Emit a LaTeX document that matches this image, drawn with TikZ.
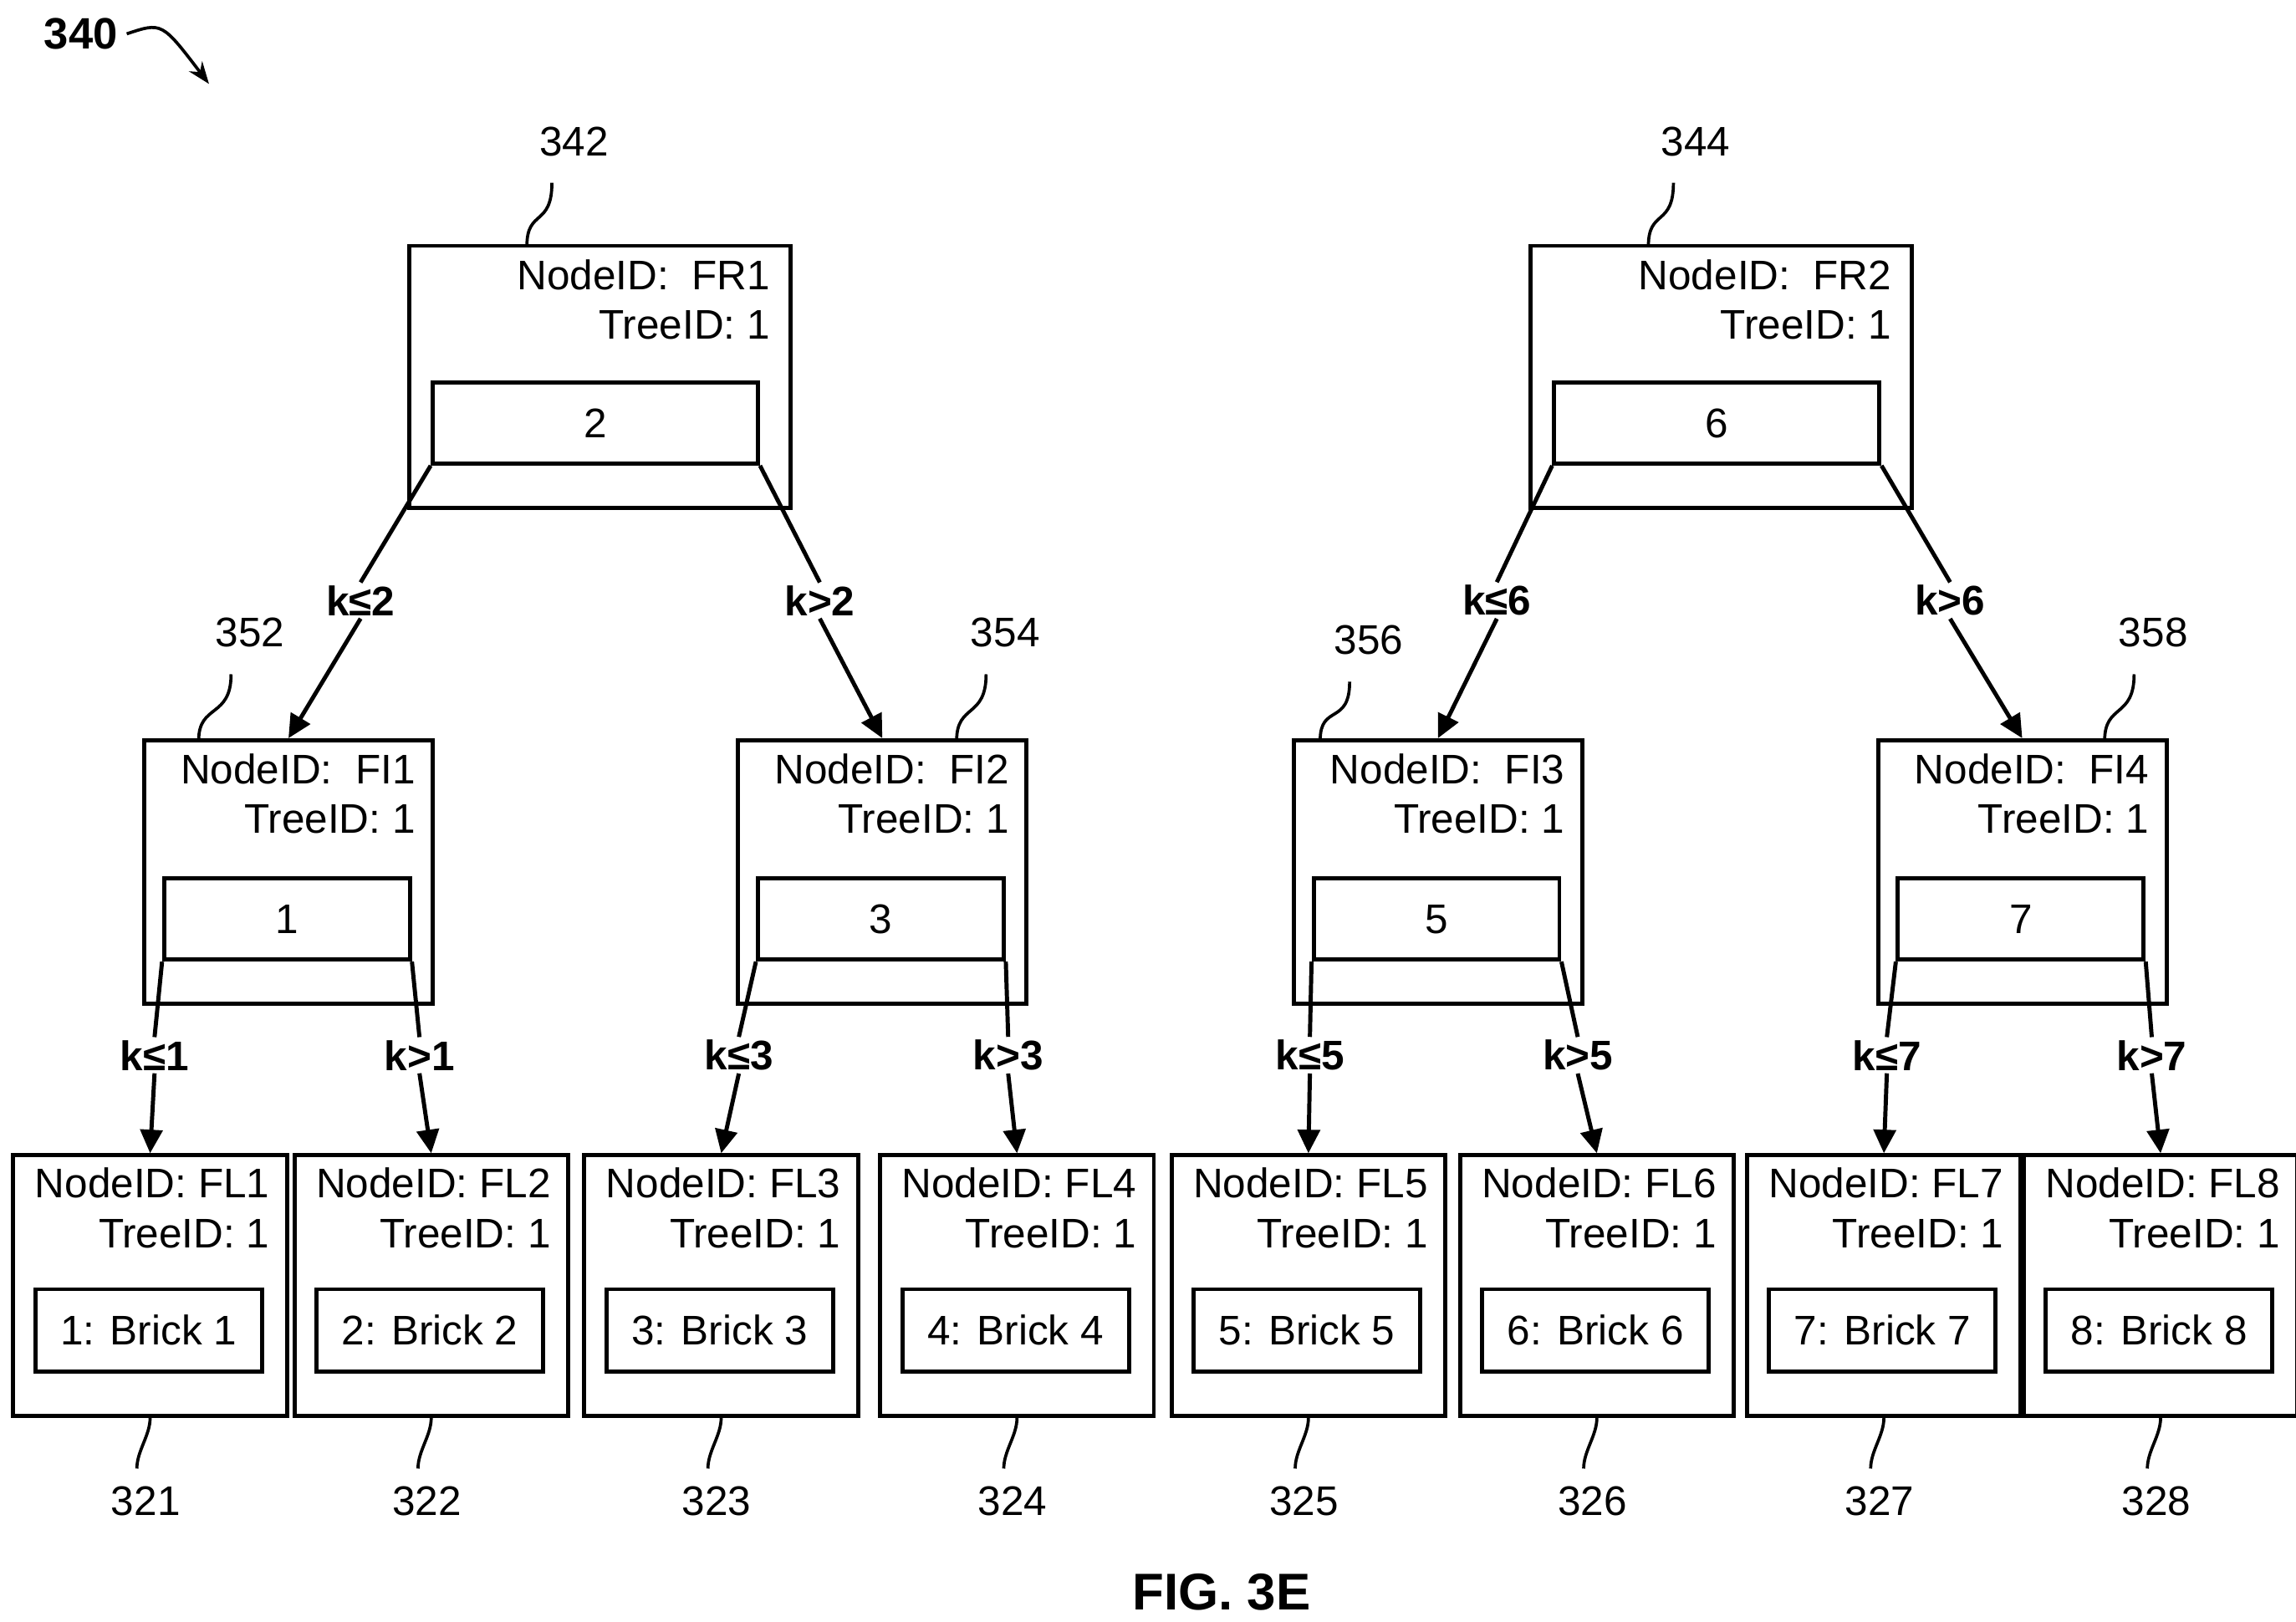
\documentclass[tikz,border=0pt]{standalone}
\usepackage{fontspec}
\setmainfont{Liberation Sans}
\usetikzlibrary{arrows.meta,calc,positioning}

\begin{document}
\begin{tikzpicture}[x=0.02cm,y=-0.02cm,
    font=\fontsize{16}{19}\selectfont,
    box/.style={draw, line width=1.6pt, inner sep=0pt},
    root/.style={box, minimum width=5.18cm, minimum height=3.56cm},
    mid/.style={box, minimum width=3.92cm, minimum height=3.58cm},
    leaf/.style={box, minimum width=3.72cm, minimum height=3.54cm},
    keybox/.style={box, minimum height=1.1cm},
    brick/.style={box, minimum width=3.08cm, minimum height=1.12cm},
    cond/.style={inner sep=1pt, font=\fontsize{16}{19}\selectfont\bfseries},
    branch/.style={line width=1.6pt},
    arrow/.style={line width=1.6pt, -{Triangle[length=3.2mm, width=3mm]}},
    ref/.style={line width=1.2pt}
]
\useasboundingbox (0,0) rectangle (1560,1102);

% Figure number and caption
\node[font=\fontsize{17}{20}\selectfont\bfseries] (fignum) at (55,23) {340};
\coordinate (figarrow) at (142,57);
\draw[ref, -{Stealth[length=3mm]}] (fignum.east) .. controls (110,15) .. (figarrow);
\node[font=\fontsize{20}{24}\selectfont\bfseries] (caption) at (830,1082) {FIG. 3E};

% Root nodes
\foreach \name/\x/\id/\key/\lbl/\lx/\ex in {fr1/407.5/FR1/2/342/390/358, fr2/1169.5/FR2/6/344/1152/1120}{
  \node[root] (\name) at (\x,256) {};
  \node[anchor=east] at ($(\name.north east)+(-0.18cm,-0.42cm)$) {NodeID:\ \ \id};
  \node[anchor=east] at ($(\name.north east)+(-0.18cm,-1.1cm)$) {TreeID: 1};
  \node[keybox, minimum width=4.42cm] (\name k) at (\x-3,287.5) {\key};
  \node (\name r) at (\lx,96) {\lbl};
  \coordinate (\name t) at (\ex,167);
  \draw[ref] ($(\name r.south)+(-15,12)$) .. controls +(0,30) and +(0,-25) .. (\name t);
}

% Interior nodes
\foreach \name/\x/\id/\key/\lbl/\lx/\ly/\ex in {fi1/196/FI1/1/352/170/430/135, fi2/599.5/FI2/3/354/683/430/650,
    fi3/977/FI3/5/356/930/435/897, fi4/1374/FI4/7/358/1463/430/1430}{
  \node[mid] (\name) at (\x,592.5) {};
  \node[anchor=east] at ($(\name.north east)+(-0.14cm,-0.42cm)$) {NodeID:\ \ \id};
  \node[anchor=east] at ($(\name.north east)+(-0.14cm,-1.1cm)$) {TreeID: 1};
  \node[keybox, minimum width=3.34cm] (\name k) at (\x-1,624.5) {\key};
  \node (\name r) at (\lx,\ly) {\lbl};
  \coordinate (\name t) at (\ex,503);
  \draw[ref] ($(\name r.south)+(-13,12)$) .. controls +(0,30) and +(0,-25) .. (\name t);
}

% Leaf nodes
\foreach \i/\x/\lbl in {1/102/321, 2/293/322, 3/490/323, 4/691/324, 5/889/325, 6/1085/326, 7/1280/327, 8/1468/328}{
  \node[leaf] (fl\i) at (\x,873.5) {};
  \node[anchor=east] at ($(fl\i.north east)+(-0.14cm,-0.4cm)$) {NodeID: FL\i};
  \node[anchor=east] at ($(fl\i.north east)+(-0.14cm,-1.1cm)$) {TreeID: 1};
  \node[brick] (b\i) at (\x-1,904) {\i: Brick \i};
  \node (fl\i r) at (\x-3,1020) {\lbl};
  \draw[ref] (fl\i.south) .. controls +(0,12) and +(0,-12) .. ($(fl\i r.north)+(-6,-6)$);
}

% Root branches
\foreach \name/\k/\lx/\rx/\lchild/\rchild in {fr1/2/245/557/fi1/fi2, fr2/6/1017/1325/fi3/fi4}{
  \node[cond] (\name lc) at (\lx,408) {k≤\k};
  \node[cond] (\name rc) at (\rx,408) {k>\k};
  \draw[branch] (\name k.south west) -- (\name lc.north);
  \draw[arrow] (\name lc.south) -- (\lchild.north);
  \draw[branch] (\name k.south east) -- (\name rc.north);
  \draw[arrow] (\name rc.south) -- (\rchild.north);
}

% Interior branches
\foreach \name/\k/\lx/\rx/\lchild/\rchild in {fi1/1/105/285/fl1/fl2, fi2/3/502/685/fl3/fl4,
    fi3/5/890/1072/fl5/fl6, fi4/7/1282/1462/fl7/fl8}{
  \node[cond] (\name lc) at (\lx,717) {k≤\k};
  \node[cond] (\name rc) at (\rx,717) {k>\k};
  \draw[branch] (\name k.south west) -- (\name lc.north);
  \draw[arrow] (\name lc.south) -- (\lchild.north);
  \draw[branch] (\name k.south east) -- (\name rc.north);
  \draw[arrow] (\name rc.south) -- (\rchild.north);
}
\end{tikzpicture}
\end{document}
